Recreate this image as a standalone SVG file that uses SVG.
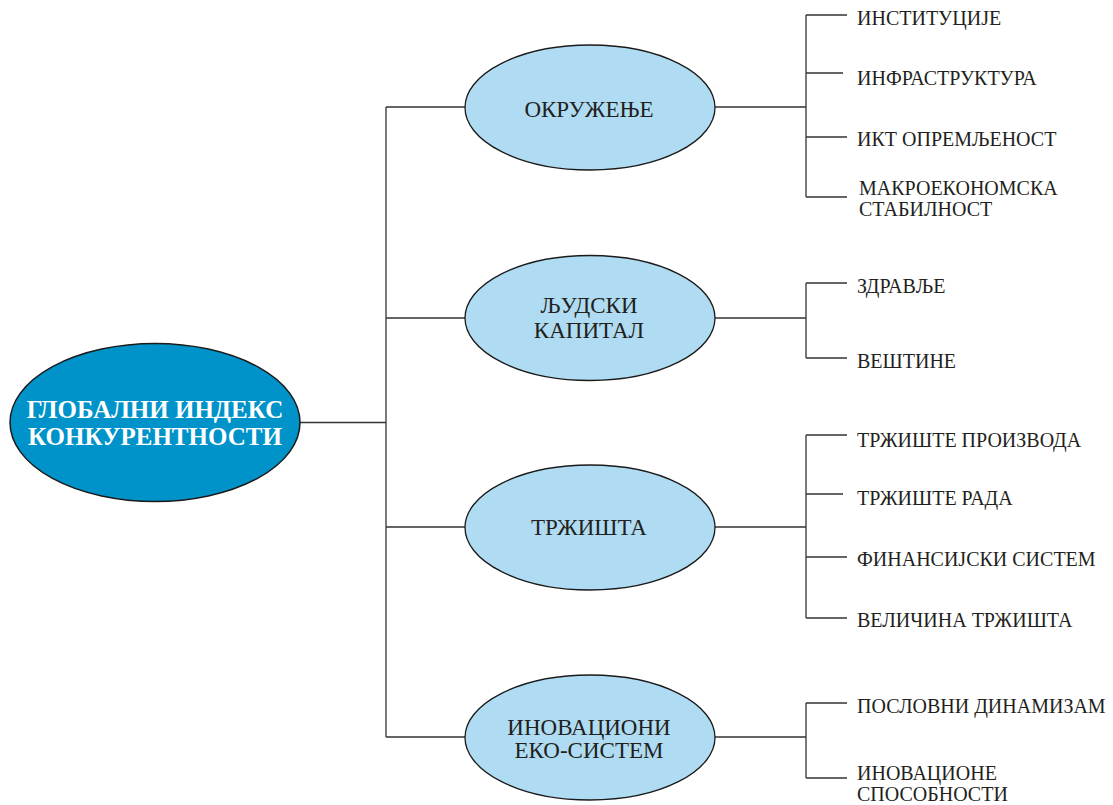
<svg xmlns="http://www.w3.org/2000/svg" width="1113" height="805" viewBox="0 0 1113 805">
  <style>
    .root { fill: #0093C9; stroke: #1a1a1a; stroke-width: 1.5; }
    .pillar { fill: #AFDCF2; stroke: #1a1a1a; stroke-width: 1.3; }
    text { font-family: "Liberation Serif", "Times New Roman", serif; }
    .root-label { font-weight: bold; font-size: 25px; fill: #ffffff; text-anchor: middle; }
    .pillar-label { font-size: 23px; fill: #231F20; text-anchor: middle; }
    .leaf { font-size: 20px; fill: #231F20; }
    .wire { fill: none; stroke: #333333; stroke-width: 1.3; }
  </style>
  <rect width="1113" height="805" fill="#ffffff"/>

  <!-- connectors -->
  <g id="connectors">
    <!-- root to pillars -->
    <path class="wire" d="M300 422.5 H386 M386 107 V737 M386 107 H466 M386 318 H466 M386 527 H466 M386 737 H466"/>
    <!-- Окружење -->
    <path class="wire" d="M714 107 H806 M806 15 V197 M806 15 H847 M806 73 H843 M806 137 H847 M806 197 H847"/>
    <!-- Људски капитал -->
    <path class="wire" d="M714 318 H806 M806 283 V358 M806 283 H847 M806 358 H847"/>
    <!-- Тржишта -->
    <path class="wire" d="M714 527 H806 M806 435 V618 M806 435 H847 M806 494 H843 M806 557 H847 M806 618 H847"/>
    <!-- Иновациони еко-систем -->
    <path class="wire" d="M714 737 H806 M806 703 V778 M806 703 H847 M806 778 H847"/>
  </g>

  <!-- root node -->
  <g id="node-gci">
    <ellipse class="root" cx="155" cy="422.5" rx="145" ry="79"/>
    <text class="root-label" x="155" y="418">ГЛОБАЛНИ ИНДЕКС</text>
    <text class="root-label" x="155" y="445">КОНКУРЕНТНОСТИ</text>
  </g>

  <!-- pillar nodes -->
  <g id="node-okruzenje">
    <ellipse class="pillar" cx="590" cy="107.5" rx="125" ry="62.5"/>
    <text class="pillar-label" x="589" y="117">ОКРУЖЕЊЕ</text>
  </g>
  <g id="node-ljudski-kapital">
    <ellipse class="pillar" cx="590" cy="318" rx="125" ry="62.5"/>
    <text class="pillar-label" x="589" y="313">ЉУДСКИ</text>
    <text class="pillar-label" x="589" y="338">КАПИТАЛ</text>
  </g>
  <g id="node-trzista">
    <ellipse class="pillar" cx="590" cy="527.5" rx="125" ry="62.5"/>
    <text class="pillar-label" x="589" y="535">ТРЖИШТА</text>
  </g>
  <g id="node-inovacioni">
    <ellipse class="pillar" cx="590" cy="737.5" rx="125" ry="62.5"/>
    <text class="pillar-label" x="589" y="735">ИНОВАЦИОНИ</text>
    <text class="pillar-label" x="589" y="758">ЕКО-СИСТЕМ</text>
  </g>

  <!-- leaf labels -->
  <g id="leaf-institucije"><text class="leaf" x="857" y="25">ИНСТИТУЦИЈЕ</text></g>
  <g id="leaf-infrastruktura"><text class="leaf" x="857" y="85">ИНФРАСТРУКТУРА</text></g>
  <g id="leaf-ikt"><text class="leaf" x="857" y="146">ИКТ ОПРЕМЉЕНОСТ</text></g>
  <g id="leaf-makro">
    <text class="leaf" x="859" y="195">МАКРОЕКОНОМСКА</text>
    <text class="leaf" x="859" y="216">СТАБИЛНОСТ</text>
  </g>
  <g id="leaf-zdravlje"><text class="leaf" x="857" y="293">ЗДРАВЉЕ</text></g>
  <g id="leaf-vestine"><text class="leaf" x="857" y="368">ВЕШТИНЕ</text></g>
  <g id="leaf-trziste-proizvoda"><text class="leaf" x="857" y="447">ТРЖИШТЕ ПРОИЗВОДА</text></g>
  <g id="leaf-trziste-rada"><text class="leaf" x="857" y="505">ТРЖИШТЕ РАДА</text></g>
  <g id="leaf-finansijski"><text class="leaf" x="857" y="566">ФИНАНСИЈСКИ СИСТЕМ</text></g>
  <g id="leaf-velicina"><text class="leaf" x="857" y="627">ВЕЛИЧИНА ТРЖИШТА</text></g>
  <g id="leaf-dinamizam"><text class="leaf" x="857" y="713">ПОСЛОВНИ ДИНАМИЗАМ</text></g>
  <g id="leaf-inovacione">
    <text class="leaf" x="857" y="780">ИНОВАЦИОНЕ</text>
    <text class="leaf" x="857" y="801">СПОСОБНОСТИ</text>
  </g>
</svg>
